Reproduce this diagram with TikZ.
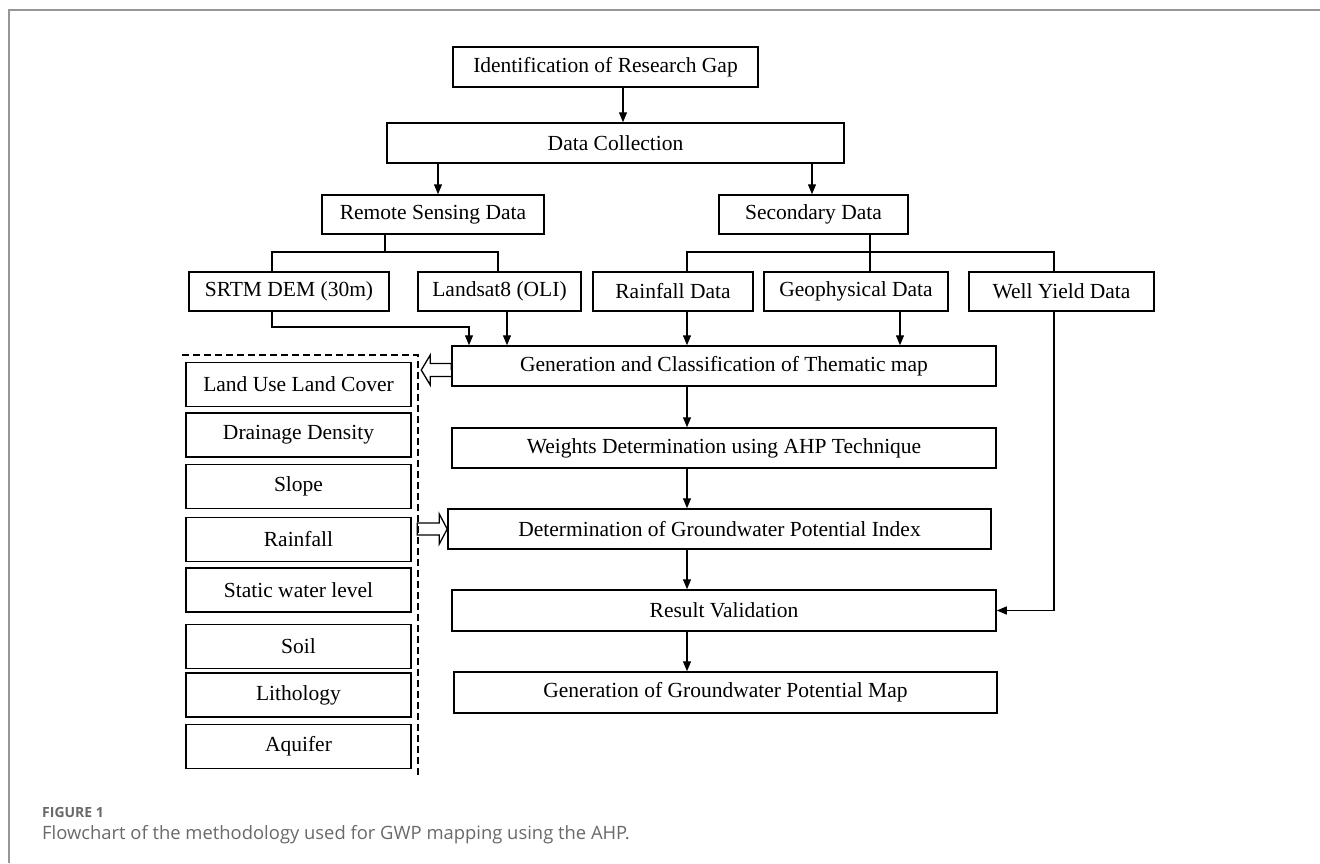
\documentclass[tikz,border=0pt]{standalone}
\usepackage{fontspec}
\setmainfont{Liberation Serif}
\newfontfamily\captionfont{Open Sans}
\usetikzlibrary{arrows.meta}
\definecolor{framegray}{RGB}{150,150,150}
\definecolor{captiongray}{RGB}{105,105,105}
\begin{document}
\begin{tikzpicture}[x = 1pt, y = -1pt, >={Triangle[length = 10pt, width = 8pt]},
                    main node/.style = {draw, rectangle, line width = 1.5pt, minimum height = 40pt, inner sep = 0pt, font = \fontsize{21.5}{25}\selectfont},
                    factor node/.style = {main node, minimum width = 225pt, minimum height = 44pt},
                    link/.style = {line width = 1.3pt},
                    caption node/.style = {anchor = west, inner sep = 0pt, text = captiongray}]
                    \useasboundingbox (0, 0) rectangle (1320, 863);
                    \node at (605.5, 67) [main node, minimum width = 305pt] (gap) {Identification of Research Gap};
                    \node at (615.5, 143) [main node, minimum width = 457pt] (collection) {Data Collection};
                    \node at (433, 214.5) [main node, minimum width = 222pt, minimum height = 39pt] (remote) {Remote Sensing Data};
                    \node at (813.5, 214.5) [main node, minimum width = 189pt, minimum height = 39pt] (secondary) {Secondary Data};
                    \node at (289, 291.5) [main node, minimum width = 200pt, minimum height = 39pt] (srtm) {SRTM DEM (30m)};
                    \node at (499.5, 291.5) [main node, minimum width = 163pt, minimum height = 39pt] (landsat) {Landsat8 (OLI)};
                    \node at (673, 291.5) [main node, minimum width = 160pt, minimum height = 39pt] (rainfalldata) {Rainfall Data};
                    \node at (856, 291.5) [main node, minimum width = 184pt, minimum height = 39pt] (geophysical) {Geophysical Data};
                    \node at (1061.5, 291.5) [main node, minimum width = 185pt, minimum height = 39pt] (wellyield) {Well Yield Data};
                    \node at (724, 366) [main node, minimum width = 544pt] (thematic) {Generation and Classification of Thematic map};
                    \node at (724, 448) [main node, minimum width = 544pt] (weights) {Weights Determination using AHP Technique};
                    \node at (719.5, 529) [main node, minimum width = 543pt] (gwpi) {Determination of Groundwater Potential Index};
                    \node at (724, 610.5) [main node, minimum width = 544pt, minimum height = 41pt] (validation) {Result Validation};
                    \node at (725.5, 692.5) [main node, minimum width = 543pt, minimum height = 41pt] (gwpmap) {Generation of Groundwater Potential Map};
                    \node at (298.5, 384.5) [factor node] (lulc) {Land Use Land Cover};
                    \node at (298.5, 435) [factor node] (drainage) {Drainage Density};
                    \node at (298.5, 486.5) [factor node] (slope) {Slope};
                    \node at (298.5, 539.5) [factor node] (rainfall) {Rainfall};
                    \node at (298.5, 590) [factor node] (swl) {Static water level};
                    \node at (298.5, 646.5) [factor node] (soil) {Soil};
                    \node at (298.5, 695) [factor node] (lithology) {Lithology};
                    \node at (298.5, 746.5) [factor node] (aquifer) {Aquifer};
                    \node at (42, 812) [caption node, font = \captionfont\bfseries\fontsize{14}{16}\selectfont] (figlabel) {FIGURE 1};
                    \node at (42, 835) [caption node, font = \captionfont\fontsize{18.4}{21}\selectfont] (figcaption) {Flowchart of the methodology used for GWP mapping using the AHP.};
                    \coordinate (gapdrop) at (623, 105);
                    \coordinate (remotedrop) at (438, 180);
                    \coordinate (seconddrop) at (812, 180);
                    \coordinate (remotejoin) at (385, 252);
                    \coordinate (secondjoin) at (870, 252);
                    \coordinate (srtmleg) at (272, 300);
                    \coordinate (landsatleg) at (498, 260);
                    \coordinate (landsatdrop) at (507, 330);
                    \coordinate (srtmbend) at (469, 327);
                    \coordinate (spine) at (687, 400);
                    \coordinate (geodrop) at (900, 330);
                    \coordinate (wellleg) at (1054, 300);
                    \coordinate (dashstart) at (182, 355);
                    \coordinate (dashend) at (418, 777);
                    \coordinate (frametop) at (1320, 10);
                    \coordinate (framebottom) at (9, 863);

                    \draw [framegray, line width = 2pt] (frametop) -| (framebottom);
                    \draw [link, ->] (gapdrop |- gap.south) -- (gapdrop |- collection.north);
                    \draw [link, ->] (remotedrop |- collection.south) -- (remotedrop |- remote.north);
                    \draw [link, ->] (seconddrop |- collection.south) -- (seconddrop |- secondary.north);
                    \draw [link] (remotejoin |- remote.south) -- (remotejoin);
                    \draw [link] (srtmleg |- srtm.north) |- (remotejoin) -| (landsatleg |- landsat.north);
                    \draw [link] (secondjoin |- secondary.south) -- (secondjoin |- geophysical.north);
                    \draw [link] (spine |- rainfalldata.north) |- (secondjoin) -| (wellleg |- wellyield.north);
                    \draw [link, ->] (srtmleg |- srtm.south) |- (srtmbend) -- (srtmbend |- thematic.north);
                    \draw [link, ->] (landsatdrop |- landsat.south) -- (landsatdrop |- thematic.north);
                    \draw [link, ->] (spine |- rainfalldata.south) -- (spine |- thematic.north);
                    \draw [link, ->] (geodrop |- geophysical.south) -- (geodrop |- thematic.north);
                    \draw [link, ->] (spine |- thematic.south) -- (spine |- weights.north);
                    \draw [link, ->] (spine |- weights.south) -- (spine |- gwpi.north);
                    \draw [link, ->] (spine |- gwpi.south) -- (spine |- validation.north);
                    \draw [link, ->] (spine |- validation.south) -- (spine |- gwpmap.north);
                    \draw [link, ->] (wellleg |- wellyield.south) |- (validation.east);
                    \draw [link, dash pattern = on 7pt off 4pt] (dashstart) -| (dashend);
                    \draw [link] ([yshift = -4pt]thematic.west) -- ++(0, -6.5) -- ++(-21, 0) -- ++(0, -8.5) -- ++(-9, 15) -- ++(9, 15) -- ++(0, -8.5) -- ++(21, 0);
                    \draw [link] (gwpi.west) -- ++(-8, -15) -- ++(0, 9) -- ++(-22, 0) -- ++(0, 12) -- ++(22, 0) -- ++(0, 9) -- cycle;
                \end{tikzpicture}
\end{document}
